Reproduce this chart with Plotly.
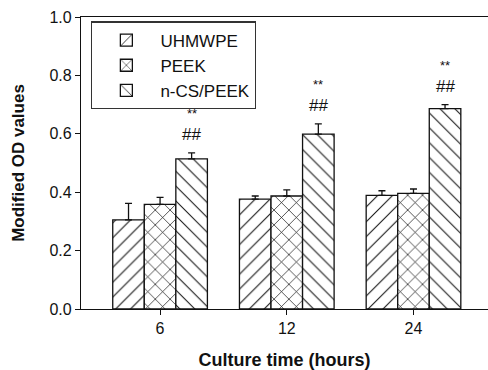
import plotly.graph_objects as go

categories = ["6", "12", "24"]
series_names = ["UHMWPE", "PEEK", "n-CS/PEEK"]
uhmwpe = [0.305, 0.376, 0.389]
uhmwpe_err = [0.057, 0.011, 0.016]
peek = [0.358, 0.387, 0.396]
peek_err = [0.024, 0.021, 0.015]
ncs_peek = [0.514, 0.599, 0.686]
ncs_peek_err = [0.021, 0.035, 0.014]
sig_hash = ["##", "##", "##"]
sig_star = ["**", "**", "**"]
y_ticks = [0.0, 0.2, 0.4, 0.6, 0.8, 1.0]

values = [uhmwpe, peek, ncs_peek]
errors = [uhmwpe_err, peek_err, ncs_peek_err]
shapes_pat = ["/", "x", "\\"]
solidities = [0.1, 0.13, 0.1]

FONT = "Liberation Sans, Arial, sans-serif"
bargap = 0.253

fig = go.Figure()
for name, v, e, sh, so in zip(series_names, values, errors, shapes_pat, solidities):
    fig.add_trace(go.Bar(
        x=categories, y=v, name=name,
        marker=dict(color="white", line=dict(color="#111", width=1.3),
                    pattern=dict(shape=sh, fgcolor="#111", bgcolor="white",
                                 size=10.5, solidity=so, fgopacity=1)),
        error_y=dict(type="data", array=e, symmetric=False, arrayminus=[0] * len(e),
                     color="#111", thickness=1.3, width=3.5),
    ))

bw = (1 - bargap) / 3
annotations = []
for i, (v, e) in enumerate(zip(ncs_peek, ncs_peek_err)):
    annotations.append(dict(x=i + bw, y=v + e, xref="x", yref="y", text=sig_hash[i],
                            showarrow=False, yanchor="bottom", yshift=7,
                            font=dict(family=FONT, size=17, color="#111")))
    annotations.append(dict(x=i + bw, y=v + e, xref="x", yref="y", text=sig_star[i],
                            showarrow=False, yanchor="bottom", yshift=30,
                            font=dict(family=FONT, size=13, color="#111")))

fig.update_layout(
    width=488, height=370,
    margin=dict(l=81, r=0, t=17, b=61),
    paper_bgcolor="white", plot_bgcolor="white",
    barmode="group", bargap=bargap, bargroupgap=0,
    font=dict(family=FONT, size=16, color="#111"),
    showlegend=True,
    legend=dict(x=0.025, y=0.985, xanchor="left", yanchor="top",
                bordercolor="#333", borderwidth=1.2, bgcolor="white",
                font=dict(family=FONT, size=17, color="#111"),
                itemwidth=58, tracegroupgap=0),
    annotations=annotations,
    xaxis=dict(type="category", range=[-0.624, 2.588], showline=True, linecolor="#111",
               linewidth=1.2, mirror=True, ticks="outside", ticklen=5, tickcolor="#111",
               showgrid=False, zeroline=False,
               title=dict(text="<b>Culture time (hours)</b>", font=dict(family=FONT, size=18, color="#111"), standoff=18)),
    yaxis=dict(range=[0, 1.0], tickvals=y_ticks, ticktext=[f"{t:.1f}" for t in y_ticks],
               showline=True, linecolor="#111", linewidth=1.2, ticks="outside", ticklen=5,
               tickcolor="#111", showgrid=False, zeroline=False,
               title=dict(text="<b>Modified OD values</b>", font=dict(family=FONT, size=17, color="#111"), standoff=20)),
)

fig.write_html("out.html")
